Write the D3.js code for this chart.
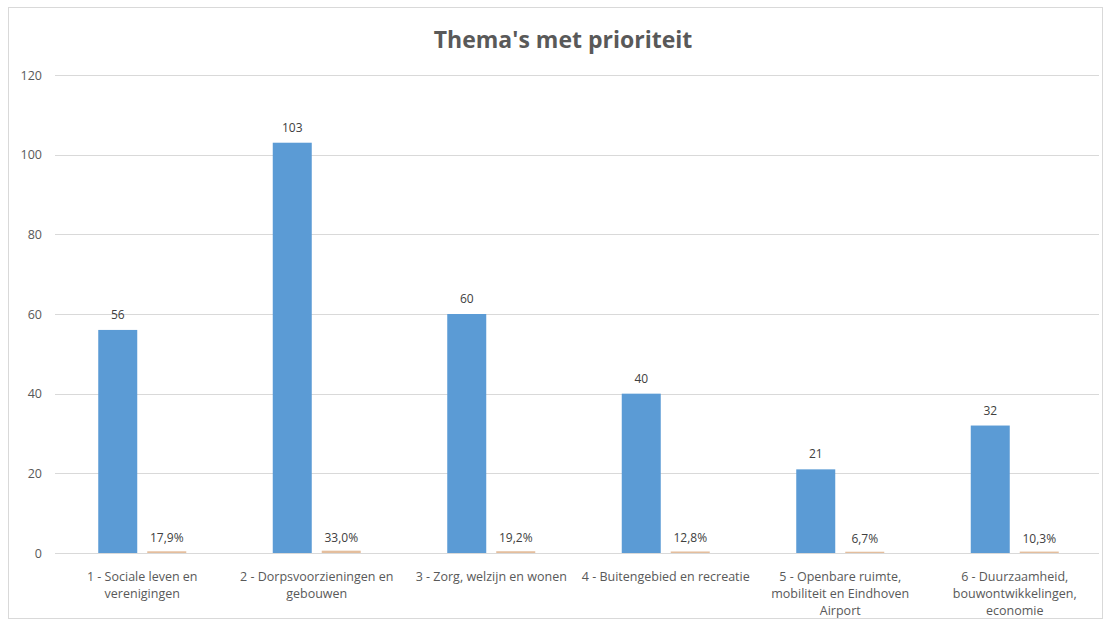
<!DOCTYPE html>
<html><head><meta charset="utf-8">
<script src="https://cdn.jsdelivr.net/npm/d3@7"></script>
<style>
html,body{margin:0;padding:0;background:#fff;}
svg{display:block;font-family:"Open Sans",sans-serif;}
</style></head>
<body><svg id="c" width="1104" height="622"></svg>
<script>
const title = "Thema's met prioriteit";
const categories = [
  "1 - Sociale leven en verenigingen",
  "2 - Dorpsvoorzieningen en gebouwen",
  "3 - Zorg, welzijn en wonen",
  "4 - Buitengebied en recreatie",
  "5 - Openbare ruimte, mobiliteit en Eindhoven Airport",
  "6 - Duurzaamheid, bouwontwikkelingen, economie"
];
const categoryLines = [
  ["1 - Sociale leven en", "verenigingen"],
  ["2 - Dorpsvoorzieningen en", "gebouwen"],
  ["3 - Zorg, welzijn en wonen"],
  ["4 - Buitengebied en recreatie"],
  ["5 - Openbare ruimte,", "mobiliteit en Eindhoven", "Airport"],
  ["6 - Duurzaamheid,", "bouwontwikkelingen,", "economie"]
];
const counts = [56, 103, 60, 40, 21, 32];
const shares = [0.179, 0.330, 0.192, 0.128, 0.067, 0.103];
const shareLabels = ["17,9%", "33,0%", "19,2%", "12,8%", "6,7%", "10,3%"];
const yTicks = [0, 20, 40, 60, 80, 100, 120];

(function () {
const svg = d3.select("#c");
const pL = 55, pR = 1102, pT = 75, pB = 553;

svg.append("rect").attr("x", 8.5).attr("y", 7.5).attr("width", 1094).attr("height", 611)
  .attr("fill", "#fff").attr("stroke", "#d9d9d9").attr("stroke-width", 1);

const x = d3.scaleBand().domain(categories).range([pL, pR]).paddingInner(0).paddingOuter(0);
const y = d3.scaleLinear().domain([0, 120]).range([pB, pT]);

// gridlines
svg.append("g").selectAll("line").data(yTicks).join("line")
  .attr("x1", pL).attr("x2", pR - 3)
  .attr("y1", d => Math.round(y(d)) + 0.5).attr("y2", d => Math.round(y(d)) + 0.5)
  .attr("stroke", "#d9d9d9").attr("stroke-width", 1);

// y axis
const yAxis = d3.axisLeft(y).tickValues(yTicks).tickSize(0).tickPadding(0);
const ga = svg.append("g").attr("transform", `translate(42,0)`).call(yAxis);
ga.select(".domain").remove();
ga.selectAll("text").attr("fill", "#595959").attr("font-size", 12.5).attr("font-family", "Open Sans");

const barW = 39, gap = 10;
const cx = d => x(d) + x.bandwidth() / 2;

// blue bars
svg.append("g").selectAll("rect").data(categories).join("rect")
  .attr("x", d => cx(d) - gap / 2 - barW)
  .attr("width", barW)
  .attr("y", (d, i) => y(counts[i]))
  .attr("height", (d, i) => y(0) - y(counts[i]))
  .attr("fill", "#5b9bd5");

// orange bars (shares)
svg.append("g").selectAll("rect").data(categories).join("rect")
  .attr("x", d => cx(d) + gap / 2)
  .attr("width", barW)
  .attr("y", (d, i) => y(shares[i]) - 1)
  .attr("height", (d, i) => y(0) - y(shares[i]) + 1)
  .attr("fill", "#d9a273").attr("opacity", 0.7);

// count labels
svg.append("g").selectAll("text").data(categories).join("text")
  .attr("x", d => cx(d) - gap / 2 - barW / 2)
  .attr("y", (d, i) => y(counts[i]) - 11)
  .attr("text-anchor", "middle").attr("font-size", 12).attr("fill", "#404040")
  .text((d, i) => counts[i]);

// share labels
svg.append("g").selectAll("text").data(categories).join("text")
  .attr("x", d => cx(d) + gap / 2 + barW / 2)
  .attr("y", (d, i) => y(shares[i]) - 10)
  .attr("text-anchor", "middle").attr("font-size", 12).attr("fill", "#404040")
  .text((d, i) => shareLabels[i]);

// category labels
const cg = svg.append("g");
categories.forEach((c, i) => {
  const t = cg.append("text").attr("text-anchor", "middle").attr("font-size", 12.5).attr("fill", "#595959");
  categoryLines[i].forEach((ln, j) => {
    t.append("tspan").attr("x", cx(c)).attr("y", 581 + j * 17).text(ln);
  });
});

// title
svg.append("text").attr("x", 563).attr("y", 48).attr("text-anchor", "middle")
  .attr("font-size", 23).attr("font-weight", "bold").attr("fill", "#595959")
  .text(title);
})();
</script></body></html>
